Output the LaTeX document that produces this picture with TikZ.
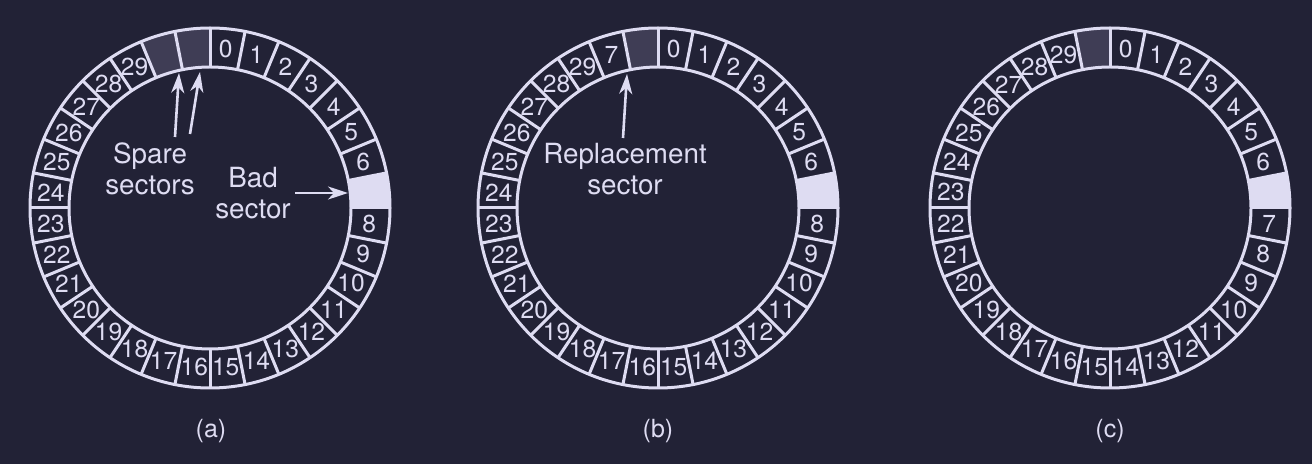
\documentclass[tikz,border=0pt]{standalone}
\usepackage{fontspec}
\usetikzlibrary{arrows.meta}
\setmainfont{TeX Gyre Heros}
\definecolor{bg}{HTML}{222236}
\definecolor{ink}{HTML}{DEDCF2}
\definecolor{sparefill}{HTML}{3F3D55}

\begin{document}
\begin{tikzpicture}[>={Stealth[length=10pt, width=6.5pt, inset=3pt]}, x=0.5pt, y=0.5pt, line width=1.5pt,
    secnum/.style={text=ink, inner sep=0pt, font=\fontsize{12.3}{13}\selectfont},
    note/.style={text=ink, align=center, inner sep=0pt, font=\fontsize{13.9}{15.5}\selectfont},
    caption/.style={text=ink, font=\fontsize{12.5}{14}\selectfont}]
    % Background, fixes the page size
    \fill[bg] (0,0) rectangle (1312,-464);

    % Bad sector (slot 7) on every disk
    \foreach \cx in {210,658,1110} {
        \begin{scope}[shift={(\cx,-208)}]
            \fill[ink] (0:141) arc[start angle=0, end angle=11.25, radius=141]
                -- (11.25:180) arc[start angle=11.25, end angle=0, radius=180] -- cycle;
        \end{scope}
    }

    % Spare sectors: slots 30 and 31 on (a), slot 31 on (b) and (c)
    \foreach \cx/\k in {210/30, 210/31, 658/31, 1110/31} {
        \begin{scope}[shift={(\cx,-208)}]
            \fill[sparefill] ({90-\k*11.25}:141) arc[start angle={90-\k*11.25}, end angle={90-(\k+1)*11.25}, radius=141]
                -- ({90-(\k+1)*11.25}:180) arc[start angle={90-(\k+1)*11.25}, end angle={90-\k*11.25}, radius=180] -- cycle;
        \end{scope}
    }

    % Rings and sector borders
    \foreach \cx in {210,658,1110} {
        \begin{scope}[shift={(\cx,-208)}]
            \draw[ink] (0,0) circle[radius=141];
            \draw[ink] (0,0) circle[radius=180];
            \foreach \k in {0,...,31}
                \draw[ink] ({90-\k*11.25}:141) -- ({90-\k*11.25}:180);
        \end{scope}
    }

    % Sector numbers
    \begin{scope}[shift={(210,-208)}]
        \foreach \lab [count=\k from 0] in {0,...,6,{},8,...,29,{},{}}
            \node[secnum] (a\k) at ({90-(\k+0.5)*11.25}:160) {\lab};
    \end{scope}
    \begin{scope}[shift={(658,-208)}]
        \foreach \lab [count=\k from 0] in {0,...,6,{},8,...,29,7,{}}
            \node[secnum] (b\k) at ({90-(\k+0.5)*11.25}:160) {\lab};
    \end{scope}
    \begin{scope}[shift={(1110,-208)}]
        \foreach \lab [count=\k from 0] in {0,...,6,{},7,...,29,{}}
            \node[secnum] (c\k) at ({90-(\k+0.5)*11.25}:160) {\lab};
    \end{scope}

    % Notes and arrows
    \node[note] (spare) at (150,-169) {Spare\\sectors};
    \node[note] (bad) at (253,-193) {Bad\\sector};
    \node[note] (repl) at (625,-169) {Replacement\\sector};

    \coordinate (spareTail1) at (175,-137);
    \coordinate (spareTip1) at (179,-73);
    \coordinate (spareTail2) at (190,-134);
    \coordinate (spareTip2) at (200,-72);
    \coordinate (badTail) at (295,-193);
    \coordinate (badTip) at (348,-193);
    \coordinate (replTail) at (623,-138);
    \coordinate (replTip) at (627,-74);

    \draw[->, ink, line width=1.3pt] (spareTail1) -- (spareTip1);
    \draw[->, ink, line width=1.3pt] (spareTail2) -- (spareTip2);
    \draw[->, ink, line width=1.3pt] (badTail) -- (badTip);
    \draw[->, ink, line width=1.3pt] (replTail) -- (replTip);

    % Captions
    \node[caption] (capa) at (211,-431) {(a)};
    \node[caption] (capb) at (658,-431) {(b)};
    \node[caption] (capc) at (1110,-431) {(c)};
\end{tikzpicture}
\end{document}
